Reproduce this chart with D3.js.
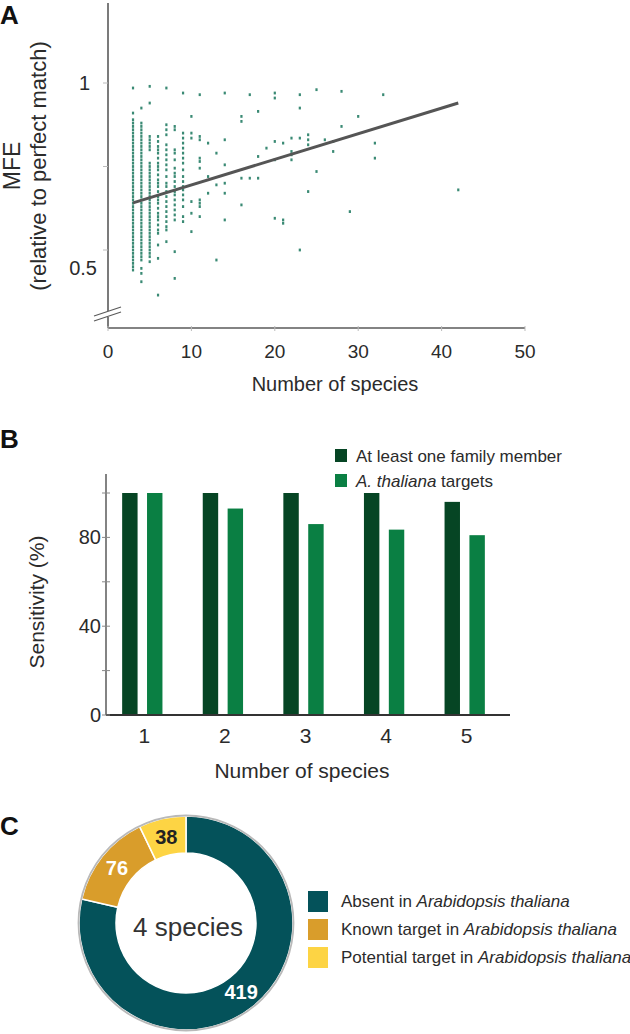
<!DOCTYPE html>
<html><head><meta charset="utf-8">
<script src="https://cdn.jsdelivr.net/npm/d3@7"></script>
<style>
body{margin:0;background:#fff}
svg{display:block}
text{font-family:"Liberation Sans",Arial,Helvetica,sans-serif;fill:#2b2b2b}
</style>
</head><body>
<svg id="fig" width="630" height="1034"></svg>
<script>
// ---------- Panel A data ----------
const speciesCounts = [3,4,5,6,7,8,9,10,11,12,13,14,16,17,18,19,20,21,22,23,24,25,26,27,28,29,30,32,33,42];
const mfeValues = [
  [0.985,0.91,0.89,0.88,0.87,0.86,0.85,0.84,0.83,0.82,0.81,0.80,0.79,0.78,0.77,0.76,0.75,0.74,0.73,0.72,0.71,0.70,0.69,0.68,0.67,0.66,0.65,0.64,0.63,0.62,0.61,0.60,0.59,0.58,0.57,0.56,0.55,0.54,0.53,0.52,0.51,0.50,0.49,0.48,0.47,0.46,0.45,0.44],
  [0.925,0.88,0.87,0.86,0.85,0.84,0.83,0.82,0.81,0.80,0.79,0.78,0.77,0.76,0.75,0.74,0.73,0.72,0.71,0.70,0.69,0.68,0.67,0.66,0.65,0.64,0.63,0.62,0.61,0.60,0.59,0.58,0.57,0.56,0.55,0.54,0.53,0.52,0.51,0.50,0.49,0.48,0.47,0.445,0.43,0.405],
  [0.99,0.94,0.84,0.83,0.82,0.81,0.80,0.76,0.75,0.74,0.73,0.72,0.71,0.70,0.69,0.68,0.67,0.66,0.65,0.64,0.63,0.62,0.61,0.60,0.59,0.58,0.57,0.56,0.55,0.54,0.53,0.52,0.51,0.50,0.49,0.48,0.465],
  [0.84,0.825,0.81,0.80,0.79,0.775,0.76,0.75,0.74,0.725,0.71,0.70,0.69,0.675,0.66,0.65,0.64,0.625,0.61,0.60,0.59,0.575,0.56,0.55,0.515,0.475,0.365],
  [0.985,0.875,0.86,0.845,0.815,0.80,0.785,0.77,0.755,0.74,0.72,0.70,0.69,0.675,0.66,0.645,0.63,0.615,0.60,0.585,0.57,0.56,0.525],
  [0.87,0.86,0.80,0.79,0.77,0.745,0.73,0.72,0.705,0.69,0.675,0.665,0.65,0.635,0.62,0.605,0.59,0.495,0.415],
  [0.97,0.85,0.835,0.82,0.805,0.79,0.775,0.76,0.74,0.72,0.705,0.69,0.68,0.665,0.65,0.63,0.60,0.585],
  [0.90,0.85,0.835,0.645,0.61,0.555],
  [0.965,0.84,0.83,0.775,0.765,0.745,0.65,0.64,0.63,0.60],
  [0.82,0.72,0.67],
  [0.79,0.695,0.47],
  [0.97,0.83,0.755,0.70,0.67,0.59],
  [0.90,0.885,0.715,0.635],
  [0.965,0.715],
  [0.915,0.78,0.715],
  [0.805],
  [0.97,0.955,0.825,0.77,0.595],
  [0.82,0.59,0.58],
  [0.835,0.795,0.785,0.77],
  [0.965,0.925,0.835,0.50],
  [0.845,0.83,0.815,0.675],
  [0.98,0.735],
  [0.83],
  [0.825,0.795],
  [0.975,0.87],
  [0.615],
  [0.90],
  [0.82,0.775],
  [0.965],
  [0.68]
];
const trendSpecies = [3, 42];
const trendMFE = [0.641, 0.940];
const xTicksA = [0,10,20,30,40,50];
const yTicksA = [0.5,0.75,1];
const yTickLabelsA = ["0.5","","1"];

// ---------- Panel B data ----------
const bCategories = ["1","2","3","4","5"];
const bSeries = ["At least one family member","A. thaliana targets"];
const familyMember = [100,100,100,100,96];
const thalianaTargets = [100,93,86,83.5,81];
const yTicksB = [0,20,40,60,80,100];
const yTickLabelsB = ["0","","40","","80",""];

// ---------- Panel C data ----------
const cCategories = ["Absent in ","Known target in ","Potential target in "];
const cSpecies = "Arabidopsis thaliana";
const cValues = [419,76,38];
const cCenter = "4 species";

// ---------- Drawing ----------
const svg = d3.select("#fig");
const axisCol = "#5a5a5a";
const dotCol = "#3a8a74";

// Panel letters
[["A",0,24],["B",0,448],["C",0,835]].forEach(([t,x,y])=>{
  svg.append("text").attr("x",x).attr("y",y).text(t)
    .style("font-weight","bold").style("font-size","26px").style("fill","#111");
});

// ===== Panel A =====
const xA = d3.scaleLinear().domain([0,50]).range([108,525]);
const yA = d3.scaleLinear().domain([0.5,1]).range([250,83]);
const gA = svg.append("g");
const baseA = 328;

gA.append("line").attr("x1",xA(0)).attr("x2",xA(50)).attr("y1",baseA).attr("y2",baseA)
  .attr("stroke",axisCol).attr("stroke-width",1.6);
gA.append("line").attr("x1",xA(0)).attr("x2",xA(0)).attr("y1",3).attr("y2",baseA)
  .attr("stroke",axisCol).attr("stroke-width",1.6);
xTicksA.forEach(t=>{
  gA.append("line").attr("x1",xA(t)).attr("x2",xA(t)).attr("y1",baseA-2).attr("y2",baseA+3)
    .attr("stroke","#bbb").attr("stroke-width",1);
  gA.append("text").attr("x",xA(t)).attr("y",358).attr("text-anchor","middle")
    .style("font-size","19px").text(t);
});
yTicksA.forEach((t,i)=>{
  gA.append("line").attr("x1",xA(0)-5).attr("x2",xA(0)).attr("y1",yA(t)).attr("y2",yA(t))
    .attr("stroke","#bbb").attr("stroke-width",1);
});
gA.append("text").attr("x",90).attr("y",yA(1)+7).attr("text-anchor","end").style("font-size","20px").text(yTickLabelsA[2]);
gA.append("text").attr("x",97).attr("y",yA(0.5)+25).attr("text-anchor","end").style("font-size","20px").text(yTickLabelsA[0]);

// axis break
gA.append("rect").attr("x",xA(0)-2).attr("y",311).attr("width",4).attr("height",6).attr("fill","#fff");
[0,5].forEach(o=>{
  gA.append("line").attr("x1",94).attr("y1",316+o).attr("x2",121).attr("y2",307+o)
    .attr("stroke",axisCol).attr("stroke-width",1.3);
});

// scatter
speciesCounts.forEach((s,i)=>{
  mfeValues[i].forEach(v=>{
    gA.append("rect").attr("x",xA(s)-1.1).attr("y",yA(v)-1.4)
      .attr("width",2.2).attr("height",2.8).attr("fill",dotCol);
  });
});
gA.append("line").attr("x1",xA(trendSpecies[0])).attr("y1",yA(trendMFE[0]))
  .attr("x2",xA(trendSpecies[1])).attr("y2",yA(trendMFE[1]))
  .attr("stroke","#555").attr("stroke-width",3);

gA.append("text").attr("transform","translate(20,166) rotate(-90)").attr("text-anchor","middle")
  .style("font-size","23px").text("MFE");
gA.append("text").attr("transform","translate(46,166) rotate(-90)").attr("text-anchor","middle")
  .style("font-size","22px").text("(relative to perfect match)");
gA.append("text").attr("x",335).attr("y",391).attr("text-anchor","middle")
  .style("font-size","20px").text("Number of species");

// ===== Panel B =====
const x0 = d3.scaleBand().domain(bCategories).range([102,505]).paddingInner(0.5).paddingOuter(0.25);
const x1 = d3.scaleBand().domain(bSeries).range([0,x0.bandwidth()]).paddingInner(0.38);
const yB = d3.scaleLinear().domain([0,100]).range([715,493]);
const bColors = ["#064524","#0a7f43"];
const gB = svg.append("g");
const seriesVals = [familyMember, thalianaTargets];
bCategories.forEach((c,i)=>{
  bSeries.forEach((s,j)=>{
    gB.append("rect").attr("x",x0(c)+x1(s)).attr("y",yB(seriesVals[j][i]))
      .attr("width",x1.bandwidth()).attr("height",yB(0)-yB(seriesVals[j][i]))
      .attr("fill",bColors[j]);
  });
});
gB.append("line").attr("x1",106).attr("x2",106).attr("y1",474).attr("y2",yB(0))
  .attr("stroke",axisCol).attr("stroke-width",1.5);
gB.append("line").attr("x1",106).attr("x2",510).attr("y1",yB(0)).attr("y2",yB(0))
  .attr("stroke","#333").attr("stroke-width",2);
yTicksB.forEach((t,i)=>{
  gB.append("line").attr("x1",102).attr("x2",110).attr("y1",yB(t)).attr("y2",yB(t))
    .attr("stroke","#888").attr("stroke-width",1);
  if (yTickLabelsB[i]) gB.append("text").attr("x",101).attr("y",yB(t)+7).attr("text-anchor","end")
    .style("font-size","20px").text(yTickLabelsB[i]);
});
bCategories.forEach(c=>{
  gB.append("text").attr("x",x0(c)+x0.bandwidth()/2+2).attr("y",743).attr("text-anchor","middle")
    .style("font-size","21px").text(c);
});
gB.append("text").attr("transform","translate(44,602) rotate(-90)").attr("text-anchor","middle")
  .style("font-size","21px").text("Sensitivity (%)");
gB.append("text").attr("x",302).attr("y",778).attr("text-anchor","middle")
  .style("font-size","21px").text("Number of species");
bSeries.forEach((s,j)=>{
  const yy = 456 + j*25;
  gB.append("rect").attr("x",335).attr("y",yy-7).attr("width",12).attr("height",13).attr("fill",bColors[j]);
  const t = gB.append("text").attr("x",356).attr("y",yy+6).style("font-size","17px");
  if (j===1){
    t.append("tspan").style("font-style","italic").text("A. thaliana");
    t.append("tspan").text(" targets");
  } else t.text(s);
});

// ===== Panel C =====
const cColors = ["#04525a","#d99d2b","#fdd444"];
const cx = 186, cy = 923, rOut = 107, rIn = 70;
const gC = svg.append("g").attr("transform",`translate(${cx},${cy})`);
const pie = d3.pie().sort(null).value(d=>d)(cValues);
const arc = d3.arc().innerRadius(rIn).outerRadius(rOut);
gC.selectAll("path.s").data(pie).join("path").attr("class","s")
  .attr("d",arc).attr("fill",(d,i)=>cColors[i]).attr("stroke","#fff").attr("stroke-width",1.5);
gC.append("circle").attr("r",rOut+0.5).attr("fill","none").attr("stroke","#b9b9b9").attr("stroke-width",1.8);
const labArc = d3.arc().innerRadius((rIn+rOut)/2).outerRadius((rIn+rOut)/2);
pie.forEach((d,i)=>{
  const [lx,ly] = labArc.centroid(d);
  gC.append("text").attr("x",lx).attr("y",ly+7).attr("text-anchor","middle")
    .style("font-size","20px").style("font-weight","bold")
    .style("fill", i===2 ? "#222" : "#fff").text(cValues[i]);
});
gC.append("text").attr("x",2).attr("y",13).attr("text-anchor","middle")
  .style("font-size","26px").style("fill","#333").text(cCenter);
cCategories.forEach((c,i)=>{
  const yy = 901 + i*28;
  svg.append("rect").attr("x",308).attr("y",yy-10).attr("width",20).attr("height",21).attr("fill",cColors[i]);
  const t = svg.append("text").attr("x",341).attr("y",yy+6).style("font-size","17px");
  t.append("tspan").text(c);
  t.append("tspan").style("font-style","italic").text(cSpecies);
});
</script>
</body></html>
